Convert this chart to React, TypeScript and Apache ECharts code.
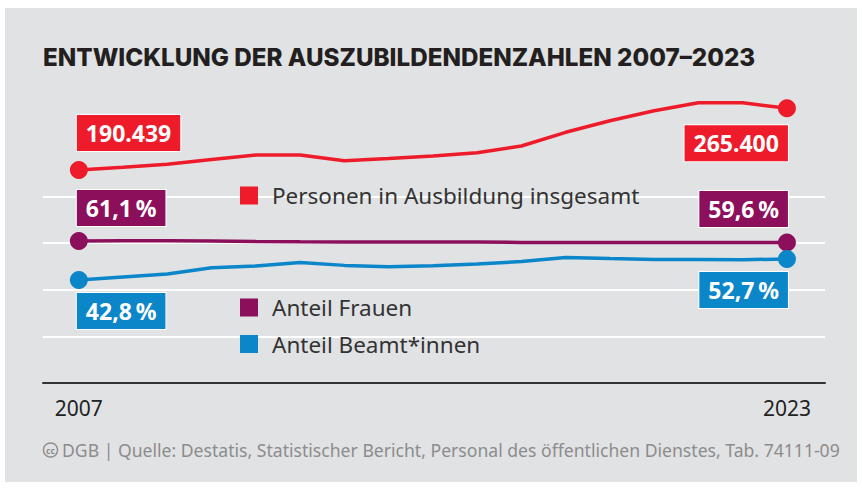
import React, { useEffect, useRef } from "react";
import * as echarts from "echarts";

const years = [2007, 2008, 2009, 2010, 2011, 2012, 2013, 2014, 2015, 2016, 2017, 2018, 2019, 2020, 2021, 2022, 2023];
const personen = [190439, 193720, 197360, 203200, 208660, 208660, 201740, 204410, 207450, 211460, 219600, 236240, 250340, 262490, 272210, 272210, 265400];
const frauen = [61.1, 61.4, 61.4, 61.0, 60.6, 60.3, 60.2, 60.1, 60.1, 60.0, 59.7, 59.5, 59.5, 59.6, 59.7, 59.6, 59.6];
const beamte = [42.8, 44.2, 45.6, 48.6, 49.4, 51.1, 49.7, 49.0, 49.5, 50.3, 51.5, 53.4, 52.9, 52.5, 52.5, 52.4, 52.7];
const xTickLabels = [2007, 2023];
const seriesNames = ["Personen in Ausbildung insgesamt", "Anteil Frauen", "Anteil Beamt*innen"];
const titleText = "ENTWICKLUNG DER AUSZUBILDENDENZAHLEN 2007–2023";
const sourceText = "DGB | Quelle: Destatis, Statistischer Bericht, Personal des öffentlichen Dienstes, Tab. 74111-09";

const RED = "#ee1c2b";
const PURPLE = "#8c0f5c";
const BLUE = "#0a86c9";
const FONT = "'Noto Sans', 'Open Sans', sans-serif";

const fmtInt = (v: number) => String(Math.round(v)).replace(/\B(?=(\d{3})+(?!\d))/g, ".");
const fmtPct = (v: number) => v.toFixed(1).replace(".", ",") + "\u2009%";

function boxLabel(text: string, bg: string, position: string, align: string, offset: number[]) {
  return {
    show: true,
    position,
    align,
    offset,
    distance: 5,
    formatter: text,
    backgroundColor: bg,
    borderColor: "#ffffff",
    borderWidth: 1,
    padding: [4, 9, 4, 9],
    color: "#ffffff",
    fontFamily: FONT,
    fontWeight: "bold",
    fontSize: 23,
    lineHeight: 28,
  };
}

function buildData(
  vals: number[],
  fmt: (v: number) => string,
  bg: string,
  firstPos: string,
  firstOffset: number[],
  lastPos: string,
  lastOffset: number[]
) {
  const last = vals.length - 1;
  return vals.map((v, i) => {
    const item: any = { value: [years[i], v] };
    if (i === 0) item.label = boxLabel(fmt(v), bg, firstPos, "left", firstOffset);
    else if (i === last) item.label = boxLabel(fmt(v), bg, lastPos, "right", lastOffset);
    return item;
  });
}

export default function App() {
  const ref = useRef<HTMLDivElement>(null);

  useEffect(() => {
    if (!ref.current) return;
    const chart = echarts.init(ref.current, null, { renderer: "svg" });
    const lastIdx = years.length - 1;
    const symSize = (_v: any, p: any) => (p.dataIndex === 0 || p.dataIndex === lastIdx ? 18 : 0);

    const lineSeries = (name: string, color: string, yIdx: number, data: any[], z: number) => ({
      name,
      type: "line",
      xAxisIndex: 0,
      yAxisIndex: yIdx,
      data,
      clip: false,
      z,
      symbol: "circle",
      symbolSize: symSize,
      showSymbol: true,
      itemStyle: { color },
      lineStyle: { color, width: 3.5 },
      emphasis: { disabled: true },
    });

    const legendText = { fontFamily: FONT, fontSize: 22.5, color: "#333333", padding: [0, 0, 0, 9] };

    chart.setOption({
      animation: false,
      grid: { left: 43, right: 37, top: 103.3, bottom: 107, containLabel: false },
      xAxis: {
        type: "value",
        min: 2006.19,
        max: 2023.86,
        axisLine: { show: true, onZero: false, lineStyle: { color: "#333333", width: 2 } },
        axisTick: { show: false },
        splitLine: { show: false },
        axisLabel: {
          customValues: xTickLabels,
          formatter: (v: number) => String(v),
          fontFamily: FONT,
          fontSize: 21,
          color: "#222222",
          margin: 14,
        },
      },
      yAxis: [
        {
          type: "value",
          min: 0,
          max: 6,
          interval: 1,
          axisLabel: { show: false },
          axisLine: { show: false },
          axisTick: { show: false },
          splitLine: {
            show: true,
            lineStyle: {
              width: 2,
              color: ["rgba(0,0,0,0)", "#ffffff", "#ffffff", "#ffffff", "#ffffff", "rgba(0,0,0,0)", "rgba(0,0,0,0)"],
            },
          },
        },
        { type: "value", show: false, min: -68400, max: 271500, splitLine: { show: false } },
        { type: "value", show: false, min: -80.9, max: 198.8, splitLine: { show: false } },
        { type: "value", show: false, min: -5.78, max: 126.15, splitLine: { show: false } },
      ],
      legend: [
        {
          data: [seriesNames[0]],
          left: 240,
          top: 184,
          padding: 0,
          icon: "rect",
          itemWidth: 18,
          itemHeight: 18,
          selectedMode: false,
          textStyle: legendText,
        },
        {
          data: [seriesNames[1], seriesNames[2]],
          orient: "vertical",
          left: 240,
          top: 296,
          padding: 0,
          itemGap: 13.5,
          icon: "rect",
          itemWidth: 18,
          itemHeight: 18,
          selectedMode: false,
          textStyle: legendText,
        },
      ],
      series: [
        lineSeries(seriesNames[0], RED, 1, buildData(personen, fmtInt, RED, "top", [-2, -5], "bottom", [1, 3]), 3),
        lineSeries(seriesNames[1], PURPLE, 2, buildData(frauen, fmtPct, PURPLE, "top", [-2, -1], "top", [1, -1.5]), 4),
        lineSeries(seriesNames[2], BLUE, 3, buildData(beamte, fmtPct, BLUE, "bottom", [-2, -1], "bottom", [1, -1]), 5),
      ],
      graphic: [
        {
          type: "text",
          x: 43,
          y: 57,
          style: {
            text: titleText,
            fontFamily: "Inter, 'Noto Sans', sans-serif",
            fontWeight: 800,
            fontSize: 24.2,
            fill: "#231f20",
            verticalAlign: "middle",
            align: "left",
          },
        },
        {
          type: "circle",
          shape: { cx: 50.5, cy: 450, r: 7 },
          style: { fill: "none", stroke: "#8c8c8c", lineWidth: 1.4 },
        },
        {
          type: "text",
          x: 50.5,
          y: 450.5,
          style: {
            text: "cc",
            fontFamily: FONT,
            fontWeight: "bold",
            fontSize: 8.5,
            fill: "#8c8c8c",
            align: "center",
            verticalAlign: "middle",
          },
        },
        {
          type: "text",
          x: 62,
          y: 450,
          style: {
            text: sourceText,
            fontFamily: FONT,
            fontSize: 17.6,
            fill: "#8c8c8c",
            verticalAlign: "middle",
            align: "left",
          },
        },
      ],
    });
    return () => chart.dispose();
  }, []);

  return (
    <div style={{ position: "absolute", left: 0, top: 0, width: 862, height: 490, background: "#ffffff" }}>
      <div style={{ position: "absolute", left: 5, top: 8, width: 852, height: 474, background: "#e1e2e4" }} />
      <div ref={ref} style={{ position: "absolute", left: 0, top: 0, width: 862, height: 490 }} />
    </div>
  );
}
